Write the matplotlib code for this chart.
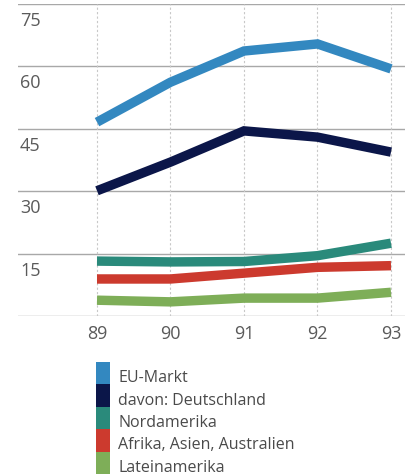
import matplotlib
matplotlib.use("Agg")
import matplotlib.pyplot as plt
from matplotlib.patches import Rectangle
import matplotlib.transforms as mtransforms

years = [89, 90, 91, 92, 93]
year_labels = ["89", "90", "91", "92", "93"]
y_ticks = [0, 15, 30, 45, 60, 75]
y_tick_labels = ["", "15", "30", "45", "60", "75"]

series_names = ["EU-Markt", "davon: Deutschland", "Nordamerika",
                "Afrika, Asien, Australien", "Lateinamerika"]
eu_markt = [46.6, 56.2, 63.7, 65.4, 59.4]
deutschland = [30.1, 37.0, 44.5, 43.0, 39.4]
nordamerika = [13.2, 13.0, 13.1, 14.5, 17.5]
afrika_asien = [8.9, 8.9, 10.3, 11.7, 12.1]
lateinamerika = [3.8, 3.4, 4.3, 4.3, 5.7]
colors = ["#3388c0", "#0b1649", "#2a8a7b", "#cc3a2e", "#7eae58"]

W, H = 405, 477
fig = plt.figure(figsize=(W / 100, H / 100), dpi=100)
plt.rcParams['font.family'] = ['Open Sans', 'DejaVu Sans']

ax_left, ax_right, ax_top, ax_bot = 18, 405, 5, 317
ax = fig.add_axes([ax_left / W, 1 - ax_bot / H, (ax_right - ax_left) / W, (ax_bot - ax_top) / H])
ppu = (391 - 97) / 4
ax.set_xlim(89 - (97 - ax_left) / ppu, 93 + (ax_right - 391) / ppu)
ax.set_ylim(0, 75)

for s in ax.spines.values():
    s.set_visible(False)

# grid lines
for v in y_ticks:
    ax.axhline(v, color="#a8a8a8", lw=1.0, zorder=1)
for x in years:
    ax.axvline(x, color="#c8c8c8", lw=0.8, ls=(0, (2, 2)), zorder=1)

all_series = [eu_markt, deutschland, nordamerika, afrika_asien, lateinamerika]
for vals, c in zip(all_series, colors):
    ax.plot(years, vals, color=c, lw=6.8, solid_capstyle="butt", solid_joinstyle="miter", zorder=3)

ax.set_xticks(years)
ax.set_xticklabels(year_labels, fontsize=13, color="#5a5a5a")
ax.tick_params(axis="x", length=0, pad=6)
ax.set_yticks([])

off = mtransforms.offset_copy(ax.transData, fig=fig, x=0, y=-16, units="dots")
blend = mtransforms.blended_transform_factory(ax.transAxes, off)
for v, lab in zip(y_ticks, y_tick_labels):
    if lab:
        ax.text(0.005, v, lab, transform=blend, fontsize=13, color="#5a5a5a",
                ha="left", va="center")

# legend
bx0, bx1 = 96, 110
by0 = 363
bh = 22.4
for i, (name, c) in enumerate(zip(series_names, colors)):
    y_top = by0 + i * bh
    fig.patches.append(Rectangle((bx0 / W, 1 - (y_top + bh) / H), (bx1 - bx0) / W, bh / H,
                                 transform=fig.transFigure, facecolor=c, edgecolor="none"))
    fig.text(118 / W, 1 - (y_top + bh / 2 + 4) / H, name, fontsize=11.5, color="#4a4a4a",
             ha="left", va="center")

fig.savefig("out.png", dpi=100)
